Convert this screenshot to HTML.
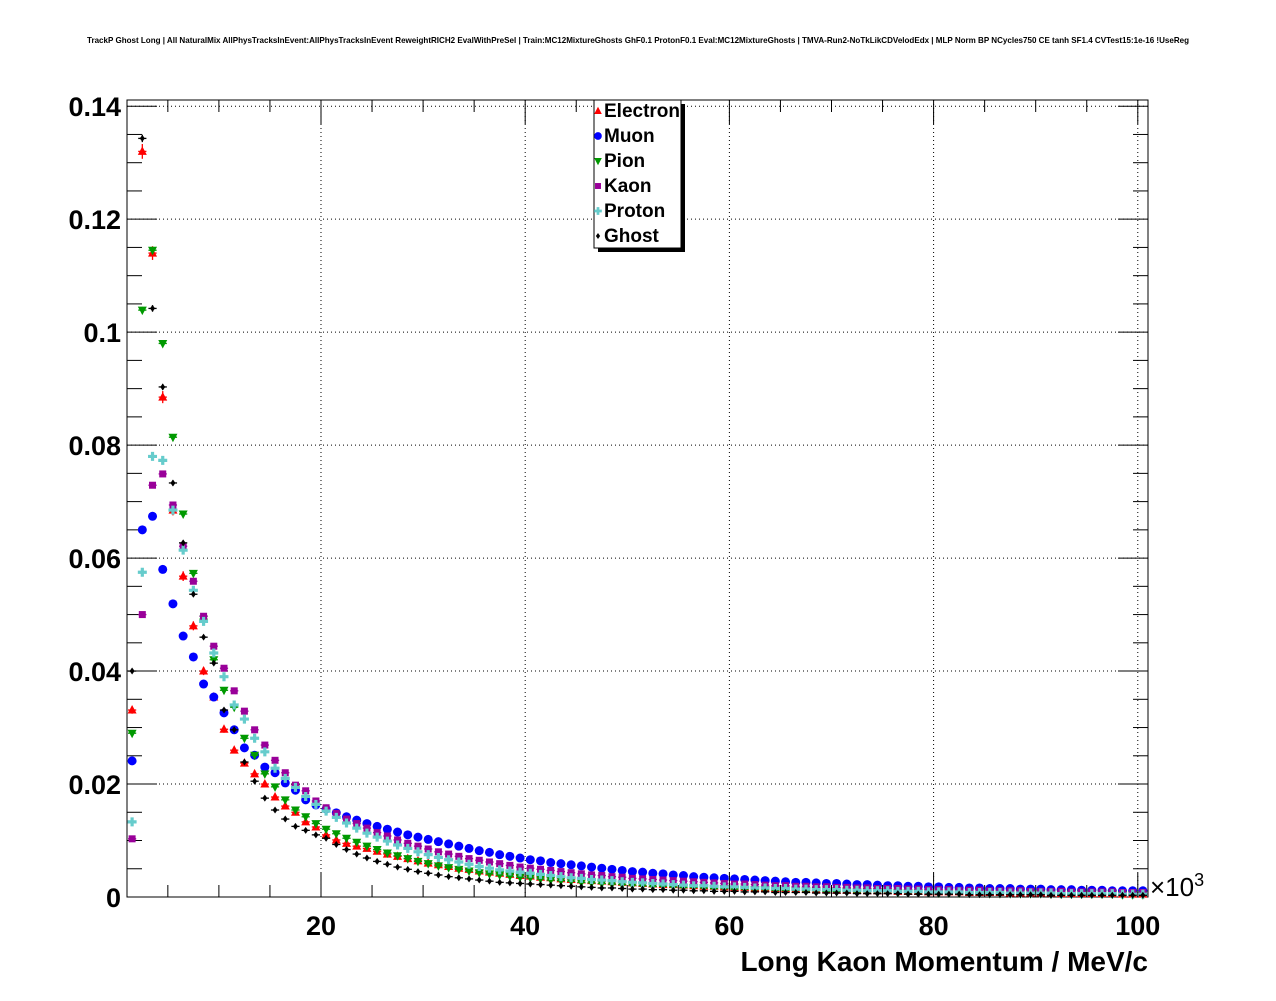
<!DOCTYPE html>
<html><head><meta charset="utf-8"><style>
html,body{margin:0;padding:0;background:#fff;}
svg text{font-family:"Liberation Sans",sans-serif;}
</style></head><body>
<svg id="chart" width="1276" height="996" xmlns="http://www.w3.org/2000/svg">
<rect width="1276" height="996" fill="#fff"/>
<text x="638" y="43" font-size="8.2" font-weight="bold" text-anchor="middle" textLength="1102" lengthAdjust="spacingAndGlyphs">TrackP Ghost Long | All NaturalMix AllPhysTracksInEvent:AllPhysTracksInEvent ReweightRICH2 EvalWithPreSel | Train:MC12MixtureGhosts GhF0.1 ProtonF0.1 Eval:MC12MixtureGhosts | TMVA-Run2-NoTkLikCDVelodEdx | MLP Norm BP NCycles750 CE tanh SF1.4 CVTest15:1e-16 !UseReg</text>
<g id="grid"></g>
<g id="axes"></g>
<g id="marks"></g>
<g id="legend"></g>
</svg>
<script>
const seriesNames=["Electron","Muon","Pion","Kaon","Proton","Ghost"];
const xTicks=[20,40,60,80,100];
const yTicks=[0,0.02,0.04,0.06,0.08,0.1,0.12,0.14];
const yTickLabels=["0","0.02","0.04","0.06","0.08","0.1","0.12","0.14"];
// values in units of 1e-3, bins of width 1 (x10^3 MeV/c) from 1 to 101
const electron=[33.1,132,114,88.5,68.5,56.8,48,40,35.4,29.7,26,23.7,21.8,20,17.7,16.1,15,13.3,12.4,11,10.1,9.5,9.0,8.6,8.1,7.6,7.2,6.8,6.4,6.0,5.7,5.4,5.1,4.9,4.6,4.4,4.2,4.0,3.8,3.7,3.5,3.4,3.2,3.1,3.0,2.9,2.8,2.7,2.6,2.5,2.4,2.3,2.2,2.2,2.1,2.0,1.9,1.9,1.8,1.7,1.7,1.6,1.6,1.5,1.5,1.4,1.4,1.3,1.3,1.2,1.2,1.2,1.1,1.1,1.1,1.0,1.0,1.0,0.9,0.9,0.9,0.9,0.8,0.8,0.8,0.8,0.7,0.7,0.7,0.7,0.7,0.6,0.6,0.6,0.6,0.6,0.6,0.5,0.5,0.5];
const muon=[24.1,65,67.4,58,51.9,46.2,42.5,37.7,35.4,32.6,29.6,26.4,25.1,23,22,20.2,18.9,17.2,16.3,15.6,14.9,14.2,13.6,13.0,12.5,12.0,11.5,11.0,10.6,10.2,9.8,9.4,9.0,8.6,8.2,7.9,7.5,7.2,6.9,6.6,6.4,6.1,5.9,5.7,5.5,5.3,5.1,4.9,4.7,4.5,4.4,4.2,4.1,3.9,3.8,3.6,3.5,3.4,3.3,3.2,3.1,3.0,2.9,2.8,2.7,2.6,2.6,2.5,2.4,2.4,2.3,2.2,2.2,2.1,2.0,2.0,1.9,1.9,1.8,1.8,1.7,1.7,1.6,1.6,1.5,1.5,1.5,1.4,1.4,1.4,1.3,1.3,1.3,1.2,1.2,1.2,1.1,1.1,1.1,1.1];
const pion=[29,103.9,114.5,98,81.4,67.8,57.3,49.2,42,36.6,33.6,28.1,25.1,21.8,19.5,17.2,15.4,14.2,13.0,12.0,11.2,10.4,9.7,9.0,8.4,7.8,7.3,6.8,6.3,5.9,5.5,5.2,4.9,4.6,4.3,4.1,3.9,3.7,3.5,3.4,3.2,3.0,2.9,2.8,2.6,2.5,2.4,2.3,2.2,2.1,2.0,1.9,1.9,1.8,1.7,1.7,1.6,1.5,1.5,1.4,1.4,1.3,1.3,1.2,1.2,1.2,1.1,1.1,1.0,1.0,1.0,0.9,0.9,0.9,0.9,0.8,0.8,0.8,0.8,0.7,0.7,0.7,0.7,0.7,0.6,0.6,0.6,0.6,0.6,0.6,0.5,0.5,0.5,0.5,0.5,0.5,0.5,0.4,0.4,0.4];
const kaon=[10.3,50,72.9,74.9,69.4,62.1,55.9,49.7,44.4,40.5,36.5,32.9,29.6,26.9,24.2,22,19.8,18.8,17.0,15.8,14.8,13.8,13.0,12.2,11.4,10.8,10.1,9.5,9.0,8.5,8.0,7.6,7.2,6.8,6.5,6.2,5.9,5.6,5.3,5.1,4.9,4.7,4.5,4.3,4.1,3.9,3.8,3.6,3.5,3.3,3.2,3.1,3.0,2.9,2.8,2.7,2.6,2.5,2.4,2.3,2.3,2.2,2.1,2.0,2.0,1.9,1.9,1.8,1.8,1.7,1.7,1.6,1.6,1.5,1.5,1.5,1.4,1.4,1.3,1.3,1.3,1.2,1.2,1.2,1.1,1.1,1.1,1.1,1.0,1.0,1.0,1.0,0.9,0.9,0.9,0.9,0.9,0.8,0.8,0.8];
const proton=[13.3,57.5,78,77.3,68.5,61.4,54.3,48.8,43.2,39,34,31.5,28.1,25.7,22.8,21,19.4,17.8,16.4,15.2,14.1,13.1,12.2,11.3,10.6,9.9,9.2,8.6,8.0,7.5,7.0,6.6,6.2,5.8,5.4,5.1,4.8,4.6,4.4,4.2,4.0,3.8,3.6,3.4,3.3,3.1,3.0,2.9,2.7,2.6,2.5,2.4,2.3,2.2,2.1,2.0,2.0,1.9,1.8,1.8,1.7,1.6,1.6,1.5,1.5,1.4,1.4,1.3,1.3,1.3,1.2,1.2,1.1,1.1,1.1,1.0,1.0,1.0,0.9,0.9,0.9,0.9,0.8,0.8,0.8,0.8,0.7,0.7,0.7,0.7,0.7,0.6,0.6,0.6,0.6,0.6,0.6,0.5,0.5,0.5];
const ghost=[40,134.3,104.2,90.3,73.3,62.7,53.6,46,41.4,33.1,29.6,23.9,20.5,17.5,15.4,13.8,12.5,11.8,11.0,10.4,9.3,8.4,7.6,6.9,6.3,5.8,5.3,4.9,4.5,4.2,3.9,3.6,3.4,3.2,3.0,2.8,2.6,2.5,2.4,2.3,2.2,2.1,2.0,1.9,1.8,1.7,1.6,1.6,1.5,1.4,1.4,1.3,1.3,1.2,1.2,1.1,1.1,1.0,1.0,1.0,0.9,0.9,0.9,0.8,0.8,0.8,0.8,0.7,0.7,0.7,0.7,0.6,0.6,0.6,0.6,0.6,0.5,0.5,0.5,0.5,0.5,0.5,0.4,0.4,0.4,0.4,0.4,0.4,0.4,0.4,0.3,0.3,0.3,0.3,0.3,0.3,0.3,0.3,0.3,0.3];

const NS="http://www.w3.org/2000/svg";
const L=127,R=1148,T=100,B=897;
const xMin=1,xMax=101,yMin=0,yMax=0.1411;
const X=v=>L+(v-xMin)/(xMax-xMin)*(R-L);
const Y=v=>B-(v-yMin)/(yMax-yMin)*(B-T);
function mk(tag,attrs,parent){const e=document.createElementNS(NS,tag);for(const k in attrs)e.setAttribute(k,attrs[k]);parent.appendChild(e);return e;}
const grid=document.getElementById('grid'),axes=document.getElementById('axes'),marks=document.getElementById('marks'),legend=document.getElementById('legend');

xTicks.forEach(t=>{const l=mk('line',{x1:X(t),x2:X(t),y1:T,y2:B,stroke:'#000','stroke-width':1,'stroke-dasharray':'1,3'},grid);
});
yTicks.slice(1).forEach(t=>{const l=mk('line',{x1:L,x2:R,y1:Y(t),y2:Y(t),stroke:'#000','stroke-width':1,'stroke-dasharray':'1,3'},grid);
});

const frame=mk('rect',{x:L,y:T,width:R-L,height:B-T,fill:'none',stroke:'#000','stroke-width':1},axes);

for(let v=5;v<=xMax;v+=5){const major=v%20===0;const len=major?24:12;
 const t=mk('line',{x1:X(v),x2:X(v),y1:B,y2:B-len,stroke:'#000'},axes);
 const t2=mk('line',{x1:X(v),x2:X(v),y1:T,y2:T+len,stroke:'#000'},axes);}
for(let v=0;v<=yMax+1e-9;v+=0.005){const major=Math.abs(v/0.02-Math.round(v/0.02))<1e-6;const len=major?30:15;
 const t=mk('line',{x1:L,x2:L+len,y1:Y(v),y2:Y(v),stroke:'#000'},axes);
 const t2=mk('line',{x1:R,x2:R-len,y1:Y(v),y2:Y(v),stroke:'#000'},axes);}
xTicks.forEach(t=>{const e=mk('text',{x:X(t),y:935,'font-size':27,'font-weight':'bold','text-anchor':'middle'},axes);e.textContent=String(t);
 });
yTicks.forEach((t,i)=>{const e=mk('text',{x:121,y:Y(t)+10,'font-size':27,'font-weight':'bold','text-anchor':'end'},axes);e.textContent=yTickLabels[i];
 });
const xt=mk('text',{x:R,y:971,'font-size':28,'font-weight':'bold','text-anchor':'end'},axes);xt.textContent='Long Kaon Momentum / MeV/c';

const ex=mk('text',{x:1150,y:896,'font-size':26},axes);ex.innerHTML='×10<tspan dy="-10" font-size="18">3</tspan>';


const colors=['#ff0000','#0000ff','#009900','#990099','#66cccc','#000000'];
const data=[electron,muon,pion,kaon,proton,ghost];
function marker(kind,cx,cy,c,g,s){
 s=s||1;
 if(kind===0) return mk('polygon',{points:`${cx},${cy-5*s} ${cx-4.5*s},${cy+3.5*s} ${cx+4.5*s},${cy+3.5*s}`,fill:c},g);
 if(kind===1) return mk('circle',{cx:cx,cy:cy,r:4.5*s,fill:c},g);
 if(kind===2) return mk('polygon',{points:`${cx},${cy+5*s} ${cx-4.5*s},${cy-3.5*s} ${cx+4.5*s},${cy-3.5*s}`,fill:c},g);
 if(kind===3) return mk('rect',{x:cx-3.5*s,y:cy-3.5*s,width:7*s,height:7*s,fill:c},g);
 if(kind===4) return mk('path',{d:`M${cx-1.6*s},${cy-4.5*s}h${3.2*s}v${2.9*s}h${2.9*s}v${3.2*s}h${-2.9*s}v${2.9*s}h${-3.2*s}v${-2.9*s}h${-2.9*s}v${-3.2*s}h${2.9*s}z`,fill:c},g);
 return mk('polygon',{points:`${cx},${cy-3.5*s} ${cx-2.5*s},${cy} ${cx},${cy+3.5*s} ${cx+2.5*s},${cy}`,fill:c},g);
}
data.forEach((arr,si)=>{
 const g=mk('g',{},marks);
 arr.forEach((v,i)=>{
  const val=v/1000;const cx=X(xMin+i+0.5),cy=Y(val);
  const err=Math.sqrt(val)*0.0018*(si===0?2:1);
  const c=colors[si];
  const h=mk('line',{x1:X(xMin+i)+1,x2:X(xMin+i+1)-1,y1:cy,y2:cy,stroke:c,'stroke-width':1.3},g);
  
  const vb=mk('line',{x1:cx,x2:cx,y1:Y(val+err),y2:Y(Math.max(0,val-err)),stroke:c,'stroke-width':1.3},g);
  
  const m=marker(si,cx,cy,c,g);
  
  
 });
});

const sh=mk('rect',{x:598,y:104,width:87,height:148,fill:'#000'},legend);

const lb=mk('rect',{x:594,y:100,width:87,height:148,fill:'#fff',stroke:'#000','stroke-width':1},legend);

seriesNames.forEach((n,i)=>{
 const y=111+i*25;
 const g=mk('g',{},legend);
 marker(i,598,y,colors[i],g,0.85);
 const t=mk('text',{x:604,y:y+6,'font-size':19,'font-weight':'bold'},g);t.textContent=n;
 
});
</script>
</body></html>
